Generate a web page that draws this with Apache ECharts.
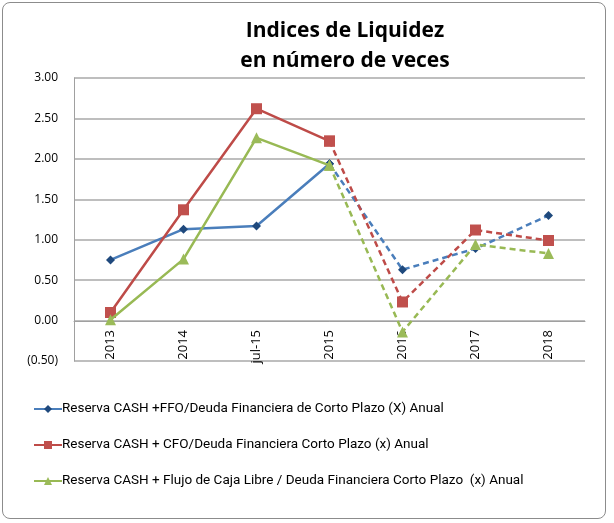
<!DOCTYPE html>
<html>
<head>
<meta charset="utf-8">
<script src="https://cdn.jsdelivr.net/npm/echarts@6/dist/echarts.min.js"></script>
<style>
  html, body { margin: 0; padding: 0; background: #fff; }
  #box { position: absolute; left: 2px; top: 2px; width: 602px; height: 515px; border: 1px solid #8c8c8c; border-radius: 8px; }
  #myChart { position: absolute; left: 0; top: 0; width: 614px; height: 523px; }
</style>
</head>
<body>
<div id="box"></div>
<div id="myChart"></div>
<script>
var categories = ['2013', '2014', 'jul-15', '2015', '2016', '2017', '2018'];
var ffoValues = [0.75, 1.13, 1.17, 1.94, 0.63, 0.89, 1.30];
var cfoValues = [0.10, 1.37, 2.62, 2.22, 0.23, 1.12, 0.99];
var fclValues = [0.01, 0.76, 2.26, 1.92, -0.14, 0.94, 0.83];
var seriesNames = [
    'Reserva CASH +FFO/Deuda Financiera de Corto Plazo (X) Anual',
    'Reserva CASH + CFO/Deuda Financiera Corto Plazo (x) Anual',
    'Reserva CASH + Flujo de Caja Libre / Deuda Financiera Corto Plazo  (x) Anual'
];
var splitIndex = 3; // desde 2015 linea punteada

function solidPart(arr) {
    return arr.map(function (v, i) { return i <= splitIndex ? v : null; });
}
function dashPart(arr) {
    return arr.map(function (v, i) { return i >= splitIndex ? v : null; });
}

var styles = [
    { line: '#4a7ebb', mark: '#1f497d', symbol: 'diamond', size: 9 },
    { line: '#be4b48', mark: '#c0504d', symbol: 'rect', size: 11 },
    { line: '#98b954', mark: '#9bbb59', symbol: 'triangle', size: 11 }
];
var allValues = [ffoValues, cfoValues, fclValues];

var series = [];
allValues.forEach(function (vals, k) {
    var st = styles[k];
    series.push({
        name: seriesNames[k],
        type: 'line',
        data: solidPart(vals),
        symbol: st.symbol,
        symbolSize: st.size,
        lineStyle: { color: st.line, width: 2.5 },
        itemStyle: { color: st.mark },
        z: 3 + k
    });
    series.push({
        name: seriesNames[k],
        type: 'line',
        data: dashPart(vals),
        symbol: st.symbol,
        symbolSize: st.size,
        lineStyle: { color: st.line, width: 2.5, type: [6, 4] },
        itemStyle: { color: st.mark },
        z: 3 + k
    });
});

var myChart = echarts.init(document.getElementById('myChart'));
var option = {
    animation: false,
    title: {
        text: 'Indices de Liquidez\nen número de veces',
        left: 340,
        top: 11,
        textAlign: 'center',
        textStyle: { fontFamily: 'Open Sans', fontSize: 21, fontWeight: 'bold', color: '#000', lineHeight: 30 }
    },
    grid: { left: 74, right: 29, top: 78, bottom: 162, containLabel: false },
    legend: {
        data: seriesNames,
        orient: 'vertical',
        left: 28,
        top: 397,
        itemGap: 22,
        itemWidth: 28,
        itemHeight: 10,
        textStyle: { fontFamily: 'Roboto', fontSize: 13.5, color: '#000', padding: [0, 0, 0, -5] }
    },
    xAxis: {
        type: 'category',
        data: categories,
        boundaryGap: true,
        offset: -40,
        axisLine: { onZero: false, lineStyle: { color: '#a0a0a0' } },
        axisTick: { show: false },
        axisLabel: { rotate: 90, color: '#000', fontFamily: 'Open Sans', fontSize: 13, margin: 9 }
    },
    yAxis: {
        type: 'value',
        min: -0.5,
        max: 3,
        interval: 0.5,
        axisLine: { show: true, lineStyle: { color: '#a0a0a0' } },
        axisTick: { show: false },
        splitLine: { show: true, lineStyle: { color: '#a8a8a8', width: 1.5 } },
        axisLabel: {
            color: '#000',
            fontFamily: 'Open Sans',
            fontSize: 12,
            margin: 16,
            formatter: function (v) {
                return v < 0 ? '(' + Math.abs(v).toFixed(2) + ')' : v.toFixed(2);
            }
        }
    },
    series: series
};
myChart.setOption(option, true);
</script>
</body>
</html>
